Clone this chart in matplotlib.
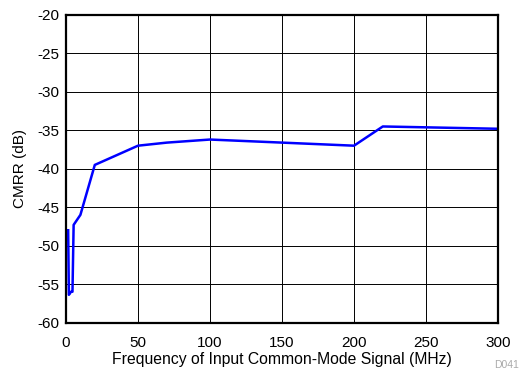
import numpy as np
import matplotlib.pyplot as plt

plt.rcParams['font.family'] = ['Liberation Sans', 'DejaVu Sans']
plt.rcParams['axes.unicode_minus'] = False

freq_mhz = [1.5, 2, 3.5, 4.5, 5.3, 10, 20, 50, 70, 100, 200, 220, 300]
cmrr_db = [-48.0, -56.4, -56.0, -56.0, -47.3, -46.0, -39.5, -37.0, -36.6, -36.2, -37.0, -34.5, -34.8]

x_ticks = np.arange(0, 301, 50)
y_ticks = np.arange(-60, -19, 5)

fig = plt.figure(figsize=(5.21, 3.69), dpi=100)
ax = fig.add_axes([66 / 521, 1 - 322.5 / 369, 432 / 521, 307.5 / 369])

ax.plot(freq_mhz, cmrr_db, color='#0000ff', linewidth=1.8)

ax.set_xlim(0, 300)
ax.set_ylim(-60, -20)
ax.set_xticks(x_ticks)
ax.set_yticks(y_ticks)
ax.grid(True, color='black', linewidth=0.7)
ax.tick_params(length=0, labelsize=11)
ax.tick_params(axis='x', pad=10)
ax.tick_params(axis='y', pad=5)
for s in ax.spines.values():
    s.set_linewidth(1.6)

ax.set_xlabel('Frequency of Input Common-Mode Signal (MHz)', fontsize=11.3, labelpad=1)
ax.set_ylabel('CMRR (dB)', fontsize=11, labelpad=7)

fig.text(494 / 521, 1 - 365 / 369, 'D041', fontsize=7.5, color='#aaaaaa', ha='left', va='center')

fig.savefig('out.png', dpi=100)
